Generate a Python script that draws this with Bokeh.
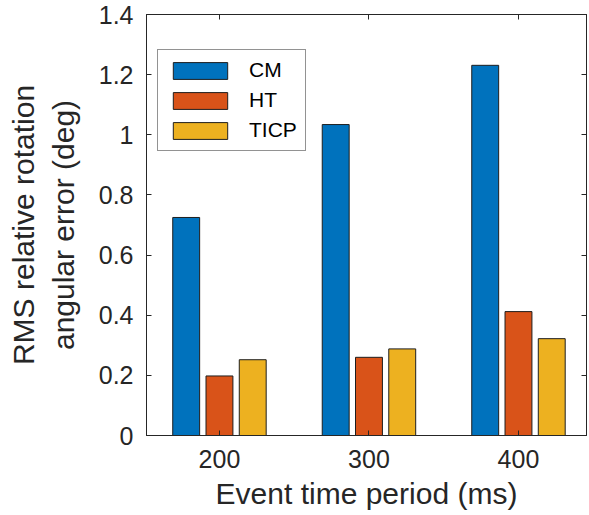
from bokeh.plotting import figure
from bokeh.models import (Range1d, FixedTicker, CustomJSTickFormatter, LinearAxis,
                          Legend, LegendItem, ColumnDataSource)
from bokeh.transform import dodge
from bokeh.embed import file_html
from bokeh.resources import INLINE

# ---- data ----
periods = ["200", "300", "400"]
cm = [0.725, 1.034, 1.231]
ht = [0.198, 0.260, 0.412]
ticp = [0.252, 0.288, 0.322]
y_ticks = [0, 0.2, 0.4, 0.6, 0.8, 1.0, 1.2, 1.4]

src = ColumnDataSource(dict(x=[1, 2, 3], cm=cm, ht=ht, ticp=ticp))

FONT = "Liberation Sans"
TXT = "#262626"

p = figure(frame_width=440, frame_height=421,
           min_border_left=146, min_border_top=14, min_border_right=1, min_border_bottom=5,
           x_range=Range1d(0.512, 3.455), y_range=Range1d(0, 1.4),
           output_backend="svg", toolbar_location=None)
p.xgrid.visible = False
p.ygrid.visible = False
p.outline_line_color = TXT
p.outline_line_width = 1
p.background_fill_color = "white"
p.border_fill_color = "white"

xfmt = CustomJSTickFormatter(args=dict(labels=periods), code="return labels[Math.round(tick)-1];")
yfmt = CustomJSTickFormatter(code="return String(Math.round(tick*10)/10);")
blank = CustomJSTickFormatter(code="return '';")

def style(ax, show):
    ax.axis_line_color = TXT
    ax.major_tick_line_color = TXT
    ax.major_tick_in = 5
    ax.major_tick_out = 0
    ax.minor_tick_in = 0
    ax.minor_tick_out = 0
    ax.major_label_text_font = FONT
    ax.major_label_text_color = TXT
    ax.axis_label_text_font = FONT
    ax.axis_label_text_color = TXT
    ax.axis_label_text_font_style = "normal"
    if not show:
        ax.major_label_standoff = 0
        ax.major_label_text_font_size = "1px"

xa = p.xaxis[0]
xa.ticker = FixedTicker(ticks=[1, 2, 3])
xa.formatter = xfmt
style(xa, True)
xa.major_label_text_font_size = "25px"
xa.major_label_standoff = 14
xa.axis_label = "Event time period (ms)"
xa.axis_label_text_font_size = "30px"
xa.axis_label_standoff = 6

ya = p.yaxis[0]
ya.ticker = FixedTicker(ticks=y_ticks)
ya.formatter = yfmt
style(ya, True)
ya.major_label_text_font_size = "25px"
ya.major_label_standoff = 13
ya.axis_label = "RMS relative rotation\nangular error (deg)"
ya.axis_label_text_font_size = "30px"
ya.axis_label_standoff = 16

top = LinearAxis(ticker=FixedTicker(ticks=[1, 2, 3]), formatter=blank)
style(top, False)
p.add_layout(top, "above")
right = LinearAxis(ticker=FixedTicker(ticks=y_ticks), formatter=blank)
style(right, False)
p.add_layout(right, "right")

colors = ["#0072BD", "#D95319", "#EDB120"]
offs = [-0.2225, 0.0, 0.2225]
cols = ["cm", "ht", "ticp"]
names = ["CM", "HT", "TICP"]
rends = []
for c, o, col in zip(colors, offs, cols):
    r = p.vbar(x=dodge("x", o, range=p.x_range), top=col, width=0.18, source=src,
               fill_color=c, line_color="#1e1e1e", line_width=1)
    rends.append(r)

legend = Legend(items=[LegendItem(label=n, renderers=[r]) for n, r in zip(names, rends)],
                location=(11, 284), glyph_width=68, glyph_height=21, label_height=21,
                spacing=6, padding=8, margin=0, label_standoff=15,
                border_line_color=TXT, border_line_width=1,
                label_text_font=FONT, label_text_font_size="21px", label_text_color="black",
                background_fill_alpha=1)
p.add_layout(legend)

open("out.html", "w").write(file_html(p, INLINE))
